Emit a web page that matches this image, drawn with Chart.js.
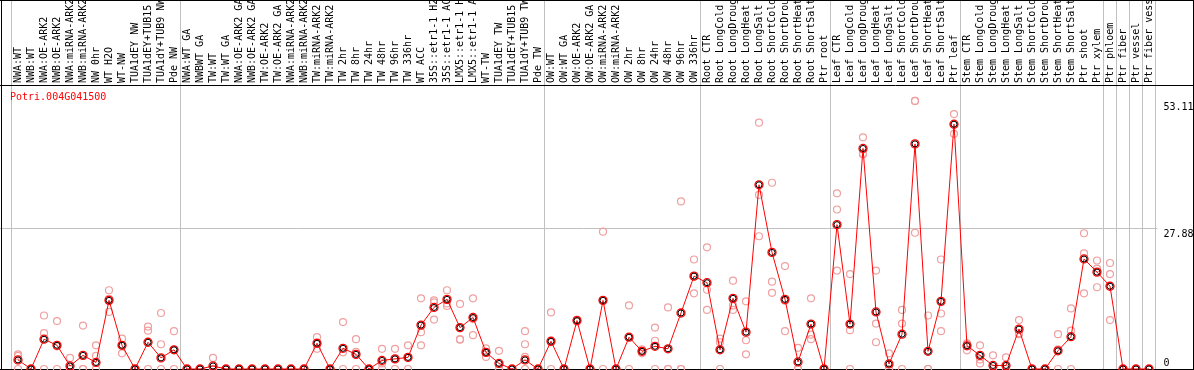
<!DOCTYPE html>
<html><head><meta charset="utf-8">
<style>html,body{margin:0;padding:0;background:#fff;overflow:hidden}#wrap{width:1194px;height:370px;position:relative}</style>
<script src="https://cdn.jsdelivr.net/npm/chart.js@4/dist/chart.umd.min.js"></script>
</head><body><div id="wrap"><canvas id="c" width="1194" height="370"></canvas></div>
<script>
const geneName = 'Potri.004G041500';
const categories = ['NWA:WT','NWB:WT','NWA:OE-ARK2','NWB:OE-ARK2','NWA:miRNA-ARK2','NWB:miRNA-ARK2','NW 0hr','WT H2O','WT-NW','TUA1dEY NW','TUA1dEY+TUB15','TUA1dY+TUB9 NW','Pde NW',
'NWA:WT GA','NWBWT GA','TW:WT','TW:WT GA','NWA:OE-ARK2 GA','NWB:OE-ARK2 GA','TW:OE-ARK2','TW:OE-ARK2 GA','NWA:miRNA-ARK2','NWB:miRNA-ARK2','TW:miRNA-ARK2','TW:miRNA-ARK2','TW 2hr','TW 8hr','TW 24hr','TW 48hr','TW 96hr','TW 336hr','WT ACC','35S::etr1-1 H2O','35S::etr1-1 ACC','LMX5::etr1-1 H2O','LMX5::etr1-1 ACC','WT-TW','TUA1dEY TW','TUA1dEY+TUB15','TUA1dY+TUB9 TW','Pde TW',
'OW:WT','OW:WT GA','OW:OE-ARK2','OW:OE-ARK2 GA','OW:miRNA-ARK2','OW:miRNA-ARK2','OW 2hr','OW 8hr','OW 24hr','OW 48hr','OW 96hr','OW 336hr',
'Root CTR','Root LongCold','Root LongDrought','Root LongHeat','Root LongSalt','Root ShortCold','Root ShortDrought','Root ShortHeat','Root ShortSalt','Ptr root',
'Leaf CTR','Leaf LongCold','Leaf LongDrought','Leaf LongHeat','Leaf LongSalt','Leaf ShortCold','Leaf ShortDrought','Leaf ShortHeat','Leaf ShortSalt','Ptr leaf',
'Stem CTR','Stem LongCold','Stem LongDrought','Stem LongHeat','Stem LongSalt','Stem ShortCold','Stem ShortDrought','Stem ShortHeat','Stem ShortSalt','Ptr shoot','Ptr xylem',
'Ptr phloem','Ptr fiber','Ptr vessel','Ptr fiber vessel'];

const meanValues = [1.8,0,5.9,4.7,0.6,2.7,1.3,13.6,4.7,0,5.3,2.2,3.8,
0,0,0.6,0,0,0,0,0,0,0,5.1,0,4.1,2.9,0,1.7,2.0,2.3,8.7,12.2,13.8,8.2,10.2,3.3,1.1,0,1.8,0,
5.5,0,9.6,0,13.6,0,6.3,3.5,4.5,4.0,11.1,18.4,
17.1,3.8,14.0,7.3,36.5,23.1,13.8,1.4,8.9,0,
28.6,8.9,43.7,11.3,1.0,6.9,44.6,3.5,13.4,48.5,
4.6,2.7,0.7,0.7,7.9,0,0,3.6,6.4,21.8,19.2,
16.4,0,0,0];

const rep1 = [2.9,0,10.6,9.5,2.2,8.6,4.7,15.6,6.0,0,8.4,11.1,7.5,
0,0,2.2,0,0,0,0,0,0,0,6.3,0,9.3,5.9,0,4.0,4.0,4.7,14.0,13.6,15.6,12.9,14.0,4.1,3.6,0,7.5,0,
11.2,0,9.8,0,27.2,0,12.6,3.9,8.2,12.2,33.2,21.7,
24.1,6.0,17.5,13.4,48.8,36.9,20.4,4.2,14.0,0,
34.8,18.8,45.9,19.5,3.1,11.7,53.11,10.6,21.7,50.5,
5.1,4.7,2.7,2.3,9.7,0,0,6.9,12.0,26.9,21.5,
21.0,0,0,0];
const rep2 = [2.6,0,7.1,4.5,0,0,2.6,13.9,4.7,0,7.6,4.9,3.8,
0,0,0,0,0,0,0,0,0,0,5.0,0,3.3,3.4,0,1.1,2.0,2.3,7.3,13.2,13.0,5.9,9.9,3.3,0,0,4.9,0,
5.3,0,9.6,0,13.6,0,6.3,3.5,5.6,0,0,18.4,
15.7,5.3,12.6,5.7,34.5,17.3,13.5,0,6.8,0,
31.6,7.7,42.7,9.0,0,9.0,53.11,0,11.0,48.4,
5.0,1.9,0,0,7.1,0,0,3.9,7.6,22.9,19.9,
18.8,0,0,0];
const rep3 = [0,0,0,0,0,0,0,11.3,3.1,0,0,0,0,
0,0,0,0,0,0,0,0,0,0,4.0,0,0,0,0,0,0,0,4.7,9.8,12.5,5.8,6.7,2.4,0,0,2.4,0,
0,0,9.4,0,0,0,0,3.1,0,0,0,15.0,
11.7,0,11.7,2.9,26.3,15.1,7.5,0,5.9,0,
19.5,0,42.5,5.3,0,0,27.0,0,7.5,46.6,
3.7,1.1,0,0,6.9,0,0,0,0,15.0,16.2,
9.7,0,0,0];
const rep4 = [null,null,null,null,null,null,null,null,null,null,null,null,null,
null,null,null,null,null,null,null,null,null,null,null,null,null,null,null,null,null,null,null,null,null,null,null,null,null,null,0,null,
null,null,null,null,null,null,null,null,null,null,null,null,
null,null,null,null,null,null,null,null,null,null,
null,null,null,null,null,null,null,null,null,null,
null,null,null,null,null,null,null,null,null,null,null,
null,null,null,null];

const groupStarts = [0,13,41,53,63,73,84,85,86,87];
const yTickValues = [0, 27.88, 53.11];
const yTickLabels = ['0', '27.88', '53.11'];
const yGridValue = 27.88;

const MONO = '"DejaVu Sans Mono", "Liberation Mono", monospace';
const GRID = '#c0c0c0';
const REP = '#f0a0a0';

const framePlugin = {
  id: 'frame',
  beforeDatasetsDraw(chart) {
    const {ctx, chartArea, scales} = chart;
    const W = chart.width, H = chart.height;
    const yg = Math.round(scales.y.getPixelForValue(yGridValue)) + 0.5;
    ctx.save();
    ctx.lineWidth = 1;
    ctx.strokeStyle = GRID;
    ctx.beginPath(); ctx.moveTo(0, yg); ctx.lineTo(chartArea.left, yg); ctx.stroke();
    ctx.strokeStyle = '#000';
    ctx.beginPath();
    ctx.moveTo(1.5, 0); ctx.lineTo(1.5, H);
    ctx.moveTo(W - 0.5, 0); ctx.lineTo(W - 0.5, H);
    ctx.moveTo(0, 0.5); ctx.lineTo(W, 0.5);
    ctx.moveTo(0, chartArea.top + 0.5); ctx.lineTo(W, chartArea.top + 0.5);
    ctx.moveTo(0, chartArea.bottom + 0.5); ctx.lineTo(W, chartArea.bottom + 0.5);
    ctx.stroke();
    ctx.fillStyle = '#ff0000';
    ctx.font = '10px ' + MONO;
    ctx.textBaseline = 'alphabetic';
    ctx.textAlign = 'left';
    ctx.fillText(geneName, 10, 100);
    ctx.restore();
  }
};

const repDataset = (arr) => ({
  type: 'line', data: arr, showLine: false, clip: false,
  pointRadius: 3.5, pointBorderWidth: 1.2, pointBorderColor: REP,
  pointBackgroundColor: 'rgba(0,0,0,0)', pointHoverRadius: 3.5
});

new Chart(document.getElementById('c'), {
  type: 'line',
  data: {
    labels: categories,
    datasets: [
      { data: meanValues, showLine: false, clip: false, pointRadius: 3, pointBorderWidth: 1,
        pointBorderColor: '#000', pointBackgroundColor: 'rgba(0,0,0,0)' },
      { data: meanValues, borderColor: '#ff0000', borderWidth: 1, tension: 0, clip: false,
        pointRadius: 4, pointBorderWidth: 1.3, pointBorderColor: '#ff0000',
        pointBackgroundColor: 'rgba(0,0,0,0)' },
      repDataset(rep1), repDataset(rep2), repDataset(rep3), repDataset(rep4)
    ]
  },
  options: {
    responsive: false, animation: false, devicePixelRatio: 1, events: [],
    layout: { autoPadding: false, padding: { left: 11.5, right: 0, top: 0, bottom: 1 } },
    plugins: { legend: { display: false }, tooltip: { enabled: false }, title: { display: false } },
    scales: {
      x: {
        type: 'category', position: 'top', offset: true,
        border: { display: false },
        grid: {
          offset: true, drawOnChartArea: true, drawTicks: true, tickLength: 85, lineWidth: 1,
          color: (c) => (c.index === undefined || groupStarts.includes(c.index)) ? GRID : 'rgba(0,0,0,0)'
        },
        ticks: {
          autoSkip: false, minRotation: 90, maxRotation: 90, padding: -83, labelOffset: 12,
          color: '#000', font: { family: MONO, size: 10 }
        },
        afterFit: (s) => { s.height = 85; s.paddingLeft = 0; s.paddingRight = 0; s.paddingTop = 0; s.paddingBottom = 0; }
      },
      y: {
        position: 'right', min: 0, max: 56.27,
        border: { display: false },
        afterBuildTicks: (s) => { s.ticks = yTickValues.map(v => ({ value: v })); },
        grid: {
          drawTicks: true, tickLength: 2, lineWidth: 1,
          color: (c) => (c.tick && c.tick.value === yGridValue) ? GRID : 'rgba(0,0,0,0)'
        },
        ticks: {
          padding: 6, color: '#000', font: { family: MONO, size: 10 },
          callback: (v, i) => {
            const t = yTickLabels[i];
            return v === 0 ? [t, ''] : ['', t];
          }
        },
        afterFit: (s) => { s.width = 38.5; s.paddingTop = 0; s.paddingBottom = 0; s.paddingLeft = 0; s.paddingRight = 0; }
      }
    }
  },
  plugins: [framePlugin]
});
</script>
</body></html>
